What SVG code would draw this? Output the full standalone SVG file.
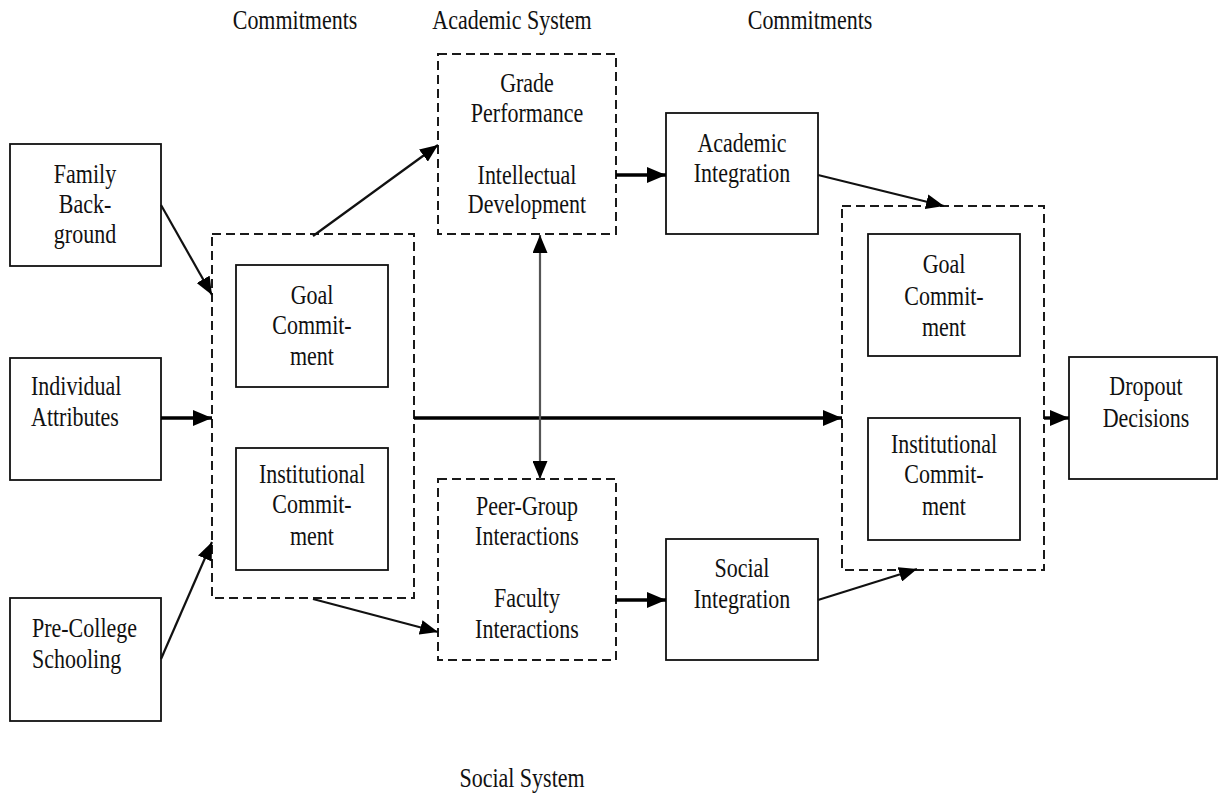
<svg xmlns="http://www.w3.org/2000/svg" width="1218" height="796" viewBox="0 0 1218 796">
<style>
.box{fill:#fff;stroke:#111;stroke-width:1.8}
.dbox{fill:none;stroke:#1a1a1a;stroke-width:2;stroke-dasharray:9 5}
.t{font-family:"Liberation Serif","Times New Roman",serif;font-size:22px;fill:#111}
.c{text-anchor:middle}
.thin{stroke:#111;stroke-width:2.2;fill:none;marker-end:url(#ah)}
.thick{stroke:#000;stroke-width:3.4;fill:none;marker-end:url(#ahb)}
</style>
<defs>
<marker id="ah" markerUnits="userSpaceOnUse" markerWidth="19" markerHeight="15" refX="18" refY="7.5" orient="auto-start-reverse"><path d="M0,0 L18,7.5 L0,15 z" fill="#000"/></marker>
<marker id="ahb" markerUnits="userSpaceOnUse" markerWidth="20" markerHeight="16" refX="19" refY="8" orient="auto"><path d="M0,0 L19,8 L0,16 z" fill="#000"/></marker>
</defs>
<rect width="1218" height="796" fill="#fff"/>

<g id="titles">
<text class="t c" transform="translate(295,29) scale(1,1.2)">Commitments</text>
<text class="t c" transform="translate(512,29) scale(1,1.2)">Academic System</text>
<text class="t c" transform="translate(810,29) scale(1,1.2)">Commitments</text>
<text class="t c" transform="translate(522,787) scale(1,1.2)">Social System</text>
</g>

<g id="family">
<rect class="box" x="10" y="144" width="151" height="122"/>
<text class="t c" transform="translate(85,183) scale(1,1.2)">Family</text>
<text class="t c" transform="translate(85,213) scale(1,1.2)">Back-</text>
<text class="t c" transform="translate(85,243) scale(1,1.2)">ground</text>
</g>
<g id="individual">
<rect class="box" x="10" y="358" width="151" height="122"/>
<text class="t" transform="translate(31,395) scale(1,1.2)">Individual</text>
<text class="t" transform="translate(31,426) scale(1,1.2)">Attributes</text>
</g>
<g id="precollege">
<rect class="box" x="10" y="598" width="151" height="123"/>
<text class="t" transform="translate(32,637) scale(1,1.2)">Pre-College</text>
<text class="t" transform="translate(32,668) scale(1,1.2)">Schooling</text>
</g>

<g id="commitments-left">
<rect class="dbox" x="212" y="234" width="202" height="364"/>
</g>
<g id="goal-left">
<rect class="box" x="236" y="265" width="152" height="122"/>
<text class="t c" transform="translate(312,304) scale(1,1.2)">Goal</text>
<text class="t c" transform="translate(312,334) scale(1,1.2)">Commit-</text>
<text class="t c" transform="translate(312,365) scale(1,1.2)">ment</text>
</g>
<g id="inst-left">
<rect class="box" x="236" y="448" width="152" height="122"/>
<text class="t c" transform="translate(312,483) scale(1,1.2)">Institutional</text>
<text class="t c" transform="translate(312,513) scale(1,1.2)">Commit-</text>
<text class="t c" transform="translate(312,545) scale(1,1.2)">ment</text>
</g>

<g id="academic-system">
<rect class="dbox" x="438" y="54" width="178" height="180"/>
<text class="t c" transform="translate(527,92) scale(1,1.2)">Grade</text>
<text class="t c" transform="translate(527,122) scale(1,1.2)">Performance</text>
<text class="t c" transform="translate(527,184) scale(1,1.2)">Intellectual</text>
<text class="t c" transform="translate(527,213) scale(1,1.2)">Development</text>
</g>
<g id="social-system">
<rect class="dbox" x="438" y="479" width="178" height="181"/>
<text class="t c" transform="translate(527,515) scale(1,1.2)">Peer-Group</text>
<text class="t c" transform="translate(527,545) scale(1,1.2)">Interactions</text>
<text class="t c" transform="translate(527,607) scale(1,1.2)">Faculty</text>
<text class="t c" transform="translate(527,638) scale(1,1.2)">Interactions</text>
</g>

<g id="academic-integration">
<rect class="box" x="666" y="113" width="152" height="121"/>
<text class="t c" transform="translate(742,152) scale(1,1.2)">Academic</text>
<text class="t c" transform="translate(742,182) scale(1,1.2)">Integration</text>
</g>
<g id="social-integration">
<rect class="box" x="666" y="539" width="152" height="121"/>
<text class="t c" transform="translate(742,577) scale(1,1.2)">Social</text>
<text class="t c" transform="translate(742,608) scale(1,1.2)">Integration</text>
</g>

<g id="commitments-right">
<rect class="dbox" x="842" y="206" width="202" height="364"/>
</g>
<g id="goal-right">
<rect class="box" x="868" y="234" width="152" height="122"/>
<text class="t c" transform="translate(944,273) scale(1,1.2)">Goal</text>
<text class="t c" transform="translate(944,305) scale(1,1.2)">Commit-</text>
<text class="t c" transform="translate(944,336) scale(1,1.2)">ment</text>
</g>
<g id="inst-right">
<rect class="box" x="868" y="418" width="152" height="122"/>
<text class="t c" transform="translate(944,453) scale(1,1.2)">Institutional</text>
<text class="t c" transform="translate(944,483) scale(1,1.2)">Commit-</text>
<text class="t c" transform="translate(944,515) scale(1,1.2)">ment</text>
</g>

<g id="dropout">
<rect class="box" x="1069" y="357" width="148" height="122"/>
<text class="t c" transform="translate(1146,395) scale(1,1.2)">Dropout</text>
<text class="t c" transform="translate(1146,427) scale(1,1.2)">Decisions</text>
</g>

<g id="connectors">
<line class="thin" x1="161" y1="205" x2="212" y2="295"/>
<line class="thick" x1="161" y1="418" x2="212" y2="418"/>
<line class="thin" x1="161" y1="659" x2="212" y2="542"/>
<line class="thin" x1="313" y1="236" x2="438" y2="145"/>
<line class="thin" x1="313" y1="599" x2="438" y2="632"/>
<line class="thick" x1="616" y1="175" x2="666" y2="175"/>
<line class="thick" x1="616" y1="600" x2="666" y2="600"/>
<line class="thin" x1="818" y1="175" x2="944" y2="206"/>
<line class="thin" x1="818" y1="600" x2="917" y2="569"/>
<line class="thick" x1="414" y1="418" x2="842" y2="418"/>
<line class="thick" x1="1044" y1="418" x2="1069" y2="418"/>
<line x1="540" y1="235" x2="540" y2="479" stroke="#555" stroke-width="2.2" marker-start="url(#ah)" marker-end="url(#ah)"/>
</g>
</svg>
